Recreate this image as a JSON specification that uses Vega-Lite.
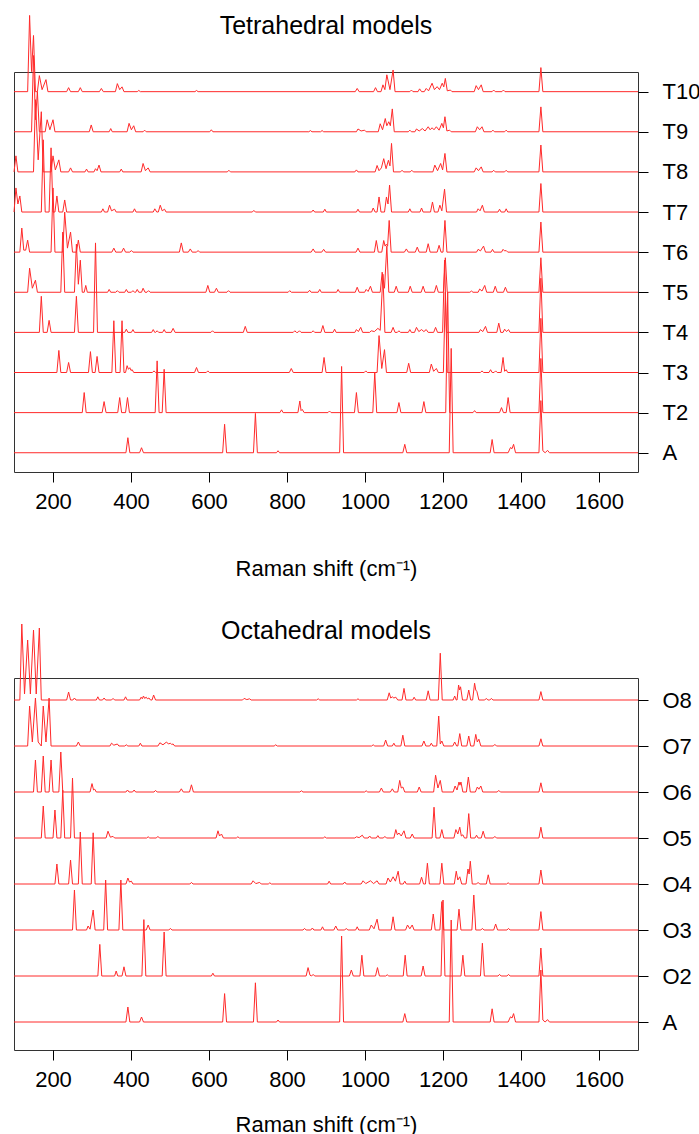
{
"$schema":"https://vega.github.io/schema/vega-lite/v6.json",
"padding":{"left":11,"top":12,"right":0,"bottom":0},
"config":{"font":"Liberation Sans","view":{"stroke":"#333","strokeWidth":1},"concat":{"spacing":38},
"title":{"fontSize":25,"fontWeight":"normal","color":"#000","font":"Liberation Sans"},
"axis":{"labelFont":"Liberation Sans","labelFontSize":22,"labelColor":"#000","tickColor":"#000","domain":false,"grid":false,"titleFont":"Liberation Sans","titleFontWeight":"normal","titleFontSize":22,"titleColor":"#000"}},
"datasets":{
"tet":[
{"s":"A","x":100,"y":0},{"s":"A","x":387,"y":0},{"s":"A","x":392,"y":0.375},{"s":"A","x":397,"y":0},{"s":"A","x":422,"y":0},{"s":"A","x":427,"y":0.125},{"s":"A","x":432,"y":0},{"s":"A","x":635,"y":0},{"s":"A","x":640,"y":0.71},{"s":"A","x":645,"y":0},{"s":"A","x":714,"y":0},{"s":"A","x":719,"y":0.98},{"s":"A","x":724,"y":0},{"s":"A","x":773,"y":0},{"s":"A","x":777,"y":0.05},{"s":"A","x":781,"y":0},{"s":"A","x":935,"y":0},{"s":"A","x":940,"y":2.15},{"s":"A","x":945,"y":0},{"s":"A","x":1097,"y":0},{"s":"A","x":1102,"y":0.21},{"s":"A","x":1107,"y":0},{"s":"A","x":1216,"y":0},{"s":"A","x":1221,"y":2.6},{"s":"A","x":1226,"y":0},{"s":"A","x":1321,"y":0},{"s":"A","x":1326,"y":0.33},{"s":"A","x":1331,"y":0},{"s":"A","x":1367,"y":0},{"s":"A","x":1373,"y":0.13},{"s":"A","x":1377,"y":0.1},{"s":"A","x":1381,"y":0.21},{"s":"A","x":1386,"y":0},{"s":"A","x":1446,"y":0},{"s":"A","x":1451,"y":1.3},{"s":"A","x":1456,"y":0.05},{"s":"A","x":1462,"y":0},{"s":"A","x":1468,"y":0.06},{"s":"A","x":1473,"y":0},{"s":"A","x":1700,"y":0},
{"s":"T2","x":100,"y":1},{"s":"T2","x":275,"y":1},{"s":"T2","x":280,"y":1.5},{"s":"T2","x":285,"y":1},{"s":"T2","x":326,"y":1},{"s":"T2","x":331,"y":1.275},{"s":"T2","x":336,"y":1},{"s":"T2","x":366,"y":1},{"s":"T2","x":371,"y":1.375},{"s":"T2","x":376,"y":1},{"s":"T2","x":386,"y":1},{"s":"T2","x":391,"y":1.375},{"s":"T2","x":396,"y":1},{"s":"T2","x":462,"y":1},{"s":"T2","x":467,"y":2.29},{"s":"T2","x":472,"y":1},{"s":"T2","x":480,"y":1},{"s":"T2","x":485,"y":2.08},{"s":"T2","x":490,"y":1},{"s":"T2","x":782,"y":1},{"s":"T2","x":786,"y":1.07},{"s":"T2","x":790,"y":1},{"s":"T2","x":828,"y":1},{"s":"T2","x":833,"y":1.29},{"s":"T2","x":836,"y":1.05},{"s":"T2","x":839,"y":1.08},{"s":"T2","x":844,"y":1},{"s":"T2","x":905,"y":1},{"s":"T2","x":909,"y":1.04},{"s":"T2","x":913,"y":1},{"s":"T2","x":973,"y":1},{"s":"T2","x":978,"y":1.5},{"s":"T2","x":983,"y":1},{"s":"T2","x":1020,"y":1},{"s":"T2","x":1025,"y":2.0},{"s":"T2","x":1030,"y":1},{"s":"T2","x":1082,"y":1},{"s":"T2","x":1087,"y":1.25},{"s":"T2","x":1092,"y":1},{"s":"T2","x":1146,"y":1},{"s":"T2","x":1151,"y":1.275},{"s":"T2","x":1156,"y":1},{"s":"T2","x":1207,"y":1},{"s":"T2","x":1212,"y":4.0},{"s":"T2","x":1217,"y":1},{"s":"T2","x":1277,"y":1},{"s":"T2","x":1281,"y":1.05},{"s":"T2","x":1285,"y":1},{"s":"T2","x":1345,"y":1},{"s":"T2","x":1350,"y":1.125},{"s":"T2","x":1355,"y":1},{"s":"T2","x":1362,"y":1},{"s":"T2","x":1367,"y":1.375},{"s":"T2","x":1372,"y":1},{"s":"T2","x":1446,"y":1},{"s":"T2","x":1451,"y":2.35},{"s":"T2","x":1456,"y":1},{"s":"T2","x":1700,"y":1},
{"s":"T3","x":100,"y":2},{"s":"T3","x":210,"y":2},{"s":"T3","x":215,"y":2.55},{"s":"T3","x":220,"y":2},{"s":"T3","x":235,"y":2},{"s":"T3","x":240,"y":2.25},{"s":"T3","x":245,"y":2},{"s":"T3","x":291,"y":2},{"s":"T3","x":296,"y":2.52},{"s":"T3","x":301,"y":2},{"s":"T3","x":308,"y":2},{"s":"T3","x":313,"y":2.4},{"s":"T3","x":318,"y":2},{"s":"T3","x":351,"y":2},{"s":"T3","x":356,"y":3.29},{"s":"T3","x":361,"y":2},{"s":"T3","x":372,"y":2},{"s":"T3","x":377,"y":3.29},{"s":"T3","x":382,"y":2},{"s":"T3","x":386,"y":2},{"s":"T3","x":390,"y":2.17},{"s":"T3","x":393.5,"y":2.08},{"s":"T3","x":397,"y":2.12},{"s":"T3","x":400,"y":2.05},{"s":"T3","x":403,"y":2.07},{"s":"T3","x":407,"y":2},{"s":"T3","x":455,"y":2},{"s":"T3","x":459,"y":2.04},{"s":"T3","x":463,"y":2},{"s":"T3","x":563,"y":2},{"s":"T3","x":568,"y":2.125},{"s":"T3","x":573,"y":2},{"s":"T3","x":593,"y":2},{"s":"T3","x":597,"y":2.04},{"s":"T3","x":601,"y":2},{"s":"T3","x":806,"y":2},{"s":"T3","x":811,"y":2.1},{"s":"T3","x":816,"y":2},{"s":"T3","x":890,"y":2},{"s":"T3","x":895,"y":2.375},{"s":"T3","x":900,"y":2},{"s":"T3","x":998,"y":2},{"s":"T3","x":1002,"y":2.04},{"s":"T3","x":1006,"y":2},{"s":"T3","x":1031,"y":2},{"s":"T3","x":1036,"y":2.92},{"s":"T3","x":1043,"y":2.1},{"s":"T3","x":1050,"y":2.57},{"s":"T3","x":1055,"y":2},{"s":"T3","x":1107,"y":2},{"s":"T3","x":1112,"y":2.23},{"s":"T3","x":1117,"y":2},{"s":"T3","x":1165,"y":2},{"s":"T3","x":1170,"y":2.21},{"s":"T3","x":1176,"y":2.03},{"s":"T3","x":1183,"y":2.1},{"s":"T3","x":1188,"y":2},{"s":"T3","x":1201,"y":2},{"s":"T3","x":1206,"y":4.0},{"s":"T3","x":1211,"y":2},{"s":"T3","x":1296,"y":2},{"s":"T3","x":1300,"y":2.04},{"s":"T3","x":1304,"y":2},{"s":"T3","x":1318,"y":2},{"s":"T3","x":1322,"y":2.07},{"s":"T3","x":1326,"y":2},{"s":"T3","x":1331,"y":2},{"s":"T3","x":1335,"y":2.04},{"s":"T3","x":1339,"y":2},{"s":"T3","x":1349,"y":2},{"s":"T3","x":1354,"y":2.375},{"s":"T3","x":1358,"y":2.03},{"s":"T3","x":1362,"y":2.07},{"s":"T3","x":1366,"y":2},{"s":"T3","x":1446,"y":2},{"s":"T3","x":1451,"y":3.35},{"s":"T3","x":1456,"y":2},{"s":"T3","x":1700,"y":2},
{"s":"T4","x":100,"y":3},{"s":"T4","x":165,"y":3},{"s":"T4","x":170,"y":3.9},{"s":"T4","x":175,"y":3},{"s":"T4","x":185,"y":3},{"s":"T4","x":190,"y":3.3},{"s":"T4","x":195,"y":3},{"s":"T4","x":255,"y":3},{"s":"T4","x":260,"y":3.9},{"s":"T4","x":265,"y":3},{"s":"T4","x":304,"y":3},{"s":"T4","x":309,"y":5.23},{"s":"T4","x":314,"y":3},{"s":"T4","x":384,"y":3},{"s":"T4","x":388,"y":3.08},{"s":"T4","x":392,"y":3},{"s":"T4","x":401,"y":3},{"s":"T4","x":405,"y":3.07},{"s":"T4","x":409,"y":3},{"s":"T4","x":453,"y":3},{"s":"T4","x":457,"y":3.07},{"s":"T4","x":461,"y":3},{"s":"T4","x":463,"y":3},{"s":"T4","x":467,"y":3.04},{"s":"T4","x":471,"y":3},{"s":"T4","x":481,"y":3},{"s":"T4","x":485,"y":3.07},{"s":"T4","x":489,"y":3},{"s":"T4","x":503,"y":3},{"s":"T4","x":508,"y":3.1},{"s":"T4","x":513,"y":3},{"s":"T4","x":605,"y":3},{"s":"T4","x":609,"y":3.04},{"s":"T4","x":613,"y":3},{"s":"T4","x":688,"y":3},{"s":"T4","x":693,"y":3.15},{"s":"T4","x":698,"y":3},{"s":"T4","x":816,"y":3},{"s":"T4","x":820,"y":3.04},{"s":"T4","x":824,"y":3},{"s":"T4","x":828,"y":3},{"s":"T4","x":832,"y":3.04},{"s":"T4","x":836,"y":3},{"s":"T4","x":863,"y":3},{"s":"T4","x":867,"y":3.04},{"s":"T4","x":871,"y":3},{"s":"T4","x":887,"y":3},{"s":"T4","x":892,"y":3.17},{"s":"T4","x":897,"y":3},{"s":"T4","x":918,"y":3},{"s":"T4","x":922,"y":3.08},{"s":"T4","x":926,"y":3},{"s":"T4","x":974,"y":3},{"s":"T4","x":978,"y":3.07},{"s":"T4","x":983,"y":3.02},{"s":"T4","x":989,"y":3.125},{"s":"T4","x":994,"y":3},{"s":"T4","x":1012,"y":3},{"s":"T4","x":1016,"y":3.04},{"s":"T4","x":1024,"y":3.02},{"s":"T4","x":1033,"y":3.1},{"s":"T4","x":1039,"y":3.05},{"s":"T4","x":1046,"y":4.45},{"s":"T4","x":1051,"y":3},{"s":"T4","x":1067,"y":3},{"s":"T4","x":1072,"y":3.125},{"s":"T4","x":1077,"y":3},{"s":"T4","x":1083,"y":3},{"s":"T4","x":1087,"y":3.04},{"s":"T4","x":1091,"y":3},{"s":"T4","x":1111,"y":3},{"s":"T4","x":1115,"y":3.07},{"s":"T4","x":1119,"y":3},{"s":"T4","x":1127,"y":3},{"s":"T4","x":1132,"y":3.125},{"s":"T4","x":1138,"y":3.02},{"s":"T4","x":1145,"y":3.07},{"s":"T4","x":1151,"y":3.02},{"s":"T4","x":1157,"y":3.07},{"s":"T4","x":1162,"y":3},{"s":"T4","x":1176,"y":3},{"s":"T4","x":1181,"y":3.125},{"s":"T4","x":1186,"y":3},{"s":"T4","x":1199,"y":3},{"s":"T4","x":1204,"y":4.8},{"s":"T4","x":1209,"y":3},{"s":"T4","x":1292,"y":3},{"s":"T4","x":1296,"y":3.07},{"s":"T4","x":1302,"y":3.02},{"s":"T4","x":1309,"y":3.15},{"s":"T4","x":1314,"y":3},{"s":"T4","x":1338,"y":3},{"s":"T4","x":1343,"y":3.23},{"s":"T4","x":1348,"y":3},{"s":"T4","x":1354,"y":3},{"s":"T4","x":1358,"y":3.08},{"s":"T4","x":1363,"y":3.02},{"s":"T4","x":1368,"y":3.07},{"s":"T4","x":1372,"y":3},{"s":"T4","x":1446,"y":3},{"s":"T4","x":1451,"y":4.35},{"s":"T4","x":1456,"y":3},{"s":"T4","x":1700,"y":3},
{"s":"T5","x":100,"y":4},{"s":"T5","x":135,"y":4},{"s":"T5","x":140,"y":4.6},{"s":"T5","x":147,"y":4.1},{"s":"T5","x":155,"y":4.3},{"s":"T5","x":160,"y":4},{"s":"T5","x":220,"y":4},{"s":"T5","x":225,"y":5.5},{"s":"T5","x":230,"y":4},{"s":"T5","x":255,"y":4},{"s":"T5","x":260,"y":5.2},{"s":"T5","x":265,"y":4.2},{"s":"T5","x":270,"y":4.8},{"s":"T5","x":275,"y":4},{"s":"T5","x":280,"y":4},{"s":"T5","x":284,"y":4.17},{"s":"T5","x":288,"y":4},{"s":"T5","x":340,"y":4},{"s":"T5","x":344,"y":4.07},{"s":"T5","x":348,"y":4},{"s":"T5","x":361,"y":4},{"s":"T5","x":365,"y":4.04},{"s":"T5","x":369,"y":4},{"s":"T5","x":384,"y":4},{"s":"T5","x":388,"y":4.07},{"s":"T5","x":392,"y":4},{"s":"T5","x":401,"y":4},{"s":"T5","x":405,"y":4.04},{"s":"T5","x":409,"y":4},{"s":"T5","x":412,"y":4},{"s":"T5","x":416,"y":4.07},{"s":"T5","x":420,"y":4},{"s":"T5","x":427,"y":4},{"s":"T5","x":431,"y":4.1},{"s":"T5","x":436,"y":4},{"s":"T5","x":441,"y":4},{"s":"T5","x":445,"y":4.04},{"s":"T5","x":449,"y":4},{"s":"T5","x":592,"y":4},{"s":"T5","x":597,"y":4.17},{"s":"T5","x":602,"y":4},{"s":"T5","x":614,"y":4},{"s":"T5","x":619,"y":4.1},{"s":"T5","x":624,"y":4},{"s":"T5","x":646,"y":4},{"s":"T5","x":650,"y":4.04},{"s":"T5","x":654,"y":4},{"s":"T5","x":803,"y":4},{"s":"T5","x":807,"y":4.04},{"s":"T5","x":811,"y":4},{"s":"T5","x":854,"y":4},{"s":"T5","x":858,"y":4.05},{"s":"T5","x":862,"y":4},{"s":"T5","x":880,"y":4},{"s":"T5","x":884,"y":4.07},{"s":"T5","x":888,"y":4},{"s":"T5","x":927,"y":4},{"s":"T5","x":931,"y":4.07},{"s":"T5","x":935,"y":4},{"s":"T5","x":975,"y":4},{"s":"T5","x":980,"y":4.125},{"s":"T5","x":985,"y":4},{"s":"T5","x":999,"y":4},{"s":"T5","x":1003,"y":4.07},{"s":"T5","x":1008,"y":4.02},{"s":"T5","x":1014,"y":4.15},{"s":"T5","x":1019,"y":4},{"s":"T5","x":1039,"y":4},{"s":"T5","x":1044,"y":4.5},{"s":"T5","x":1050,"y":4.1},{"s":"T5","x":1056,"y":5.15},{"s":"T5","x":1061,"y":4},{"s":"T5","x":1075,"y":4},{"s":"T5","x":1080,"y":4.15},{"s":"T5","x":1085,"y":4},{"s":"T5","x":1111,"y":4},{"s":"T5","x":1116,"y":4.15},{"s":"T5","x":1121,"y":4},{"s":"T5","x":1144,"y":4},{"s":"T5","x":1149,"y":4.15},{"s":"T5","x":1154,"y":4},{"s":"T5","x":1178,"y":4},{"s":"T5","x":1183,"y":4.17},{"s":"T5","x":1188,"y":4},{"s":"T5","x":1201,"y":4},{"s":"T5","x":1206,"y":4.86},{"s":"T5","x":1211,"y":4},{"s":"T5","x":1269,"y":4},{"s":"T5","x":1273,"y":4.03},{"s":"T5","x":1277,"y":4},{"s":"T5","x":1290,"y":4},{"s":"T5","x":1294,"y":4.08},{"s":"T5","x":1300,"y":4.03},{"s":"T5","x":1307,"y":4.17},{"s":"T5","x":1312,"y":4},{"s":"T5","x":1329,"y":4},{"s":"T5","x":1334,"y":4.15},{"s":"T5","x":1339,"y":4},{"s":"T5","x":1355,"y":4},{"s":"T5","x":1360,"y":4.125},{"s":"T5","x":1365,"y":4},{"s":"T5","x":1446,"y":4},{"s":"T5","x":1451,"y":4.86},{"s":"T5","x":1456,"y":4},{"s":"T5","x":1700,"y":4},
{"s":"T6","x":100,"y":5},{"s":"T6","x":115,"y":5},{"s":"T6","x":120,"y":5.6},{"s":"T6","x":125,"y":5.05},{"s":"T6","x":130,"y":5.05},{"s":"T6","x":135,"y":5.3},{"s":"T6","x":140,"y":5},{"s":"T6","x":195,"y":5},{"s":"T6","x":200,"y":6.6},{"s":"T6","x":205,"y":5},{"s":"T6","x":225,"y":5},{"s":"T6","x":230,"y":6.0},{"s":"T6","x":237,"y":5.1},{"s":"T6","x":245,"y":5.5},{"s":"T6","x":250,"y":5},{"s":"T6","x":260,"y":5},{"s":"T6","x":265,"y":5.3},{"s":"T6","x":270,"y":5},{"s":"T6","x":351,"y":5},{"s":"T6","x":356,"y":5.1},{"s":"T6","x":361,"y":5},{"s":"T6","x":376,"y":5},{"s":"T6","x":381,"y":5.1},{"s":"T6","x":386,"y":5},{"s":"T6","x":397,"y":5},{"s":"T6","x":401,"y":5.04},{"s":"T6","x":405,"y":5},{"s":"T6","x":524,"y":5},{"s":"T6","x":529,"y":5.23},{"s":"T6","x":534,"y":5},{"s":"T6","x":547,"y":5},{"s":"T6","x":552,"y":5.08},{"s":"T6","x":557,"y":5},{"s":"T6","x":568,"y":5},{"s":"T6","x":572,"y":5.04},{"s":"T6","x":576,"y":5},{"s":"T6","x":862,"y":5},{"s":"T6","x":867,"y":5.08},{"s":"T6","x":872,"y":5},{"s":"T6","x":889,"y":5},{"s":"T6","x":894,"y":5.07},{"s":"T6","x":899,"y":5},{"s":"T6","x":977,"y":5},{"s":"T6","x":982,"y":5.1},{"s":"T6","x":987,"y":5},{"s":"T6","x":1024,"y":5},{"s":"T6","x":1029,"y":5.29},{"s":"T6","x":1034,"y":5},{"s":"T6","x":1043,"y":5},{"s":"T6","x":1048,"y":5.29},{"s":"T6","x":1051.5,"y":5.15},{"s":"T6","x":1055,"y":5.2},{"s":"T6","x":1058,"y":5.15},{"s":"T6","x":1062,"y":5.79},{"s":"T6","x":1067,"y":5},{"s":"T6","x":1101,"y":5},{"s":"T6","x":1106,"y":5.08},{"s":"T6","x":1111,"y":5},{"s":"T6","x":1129,"y":5},{"s":"T6","x":1134,"y":5.125},{"s":"T6","x":1139,"y":5},{"s":"T6","x":1157,"y":5},{"s":"T6","x":1162,"y":5.21},{"s":"T6","x":1167,"y":5},{"s":"T6","x":1185,"y":5},{"s":"T6","x":1190,"y":5.17},{"s":"T6","x":1195,"y":5},{"s":"T6","x":1200,"y":5},{"s":"T6","x":1205,"y":5.79},{"s":"T6","x":1210,"y":5},{"s":"T6","x":1286,"y":5},{"s":"T6","x":1290,"y":5.07},{"s":"T6","x":1296,"y":5.03},{"s":"T6","x":1304,"y":5.15},{"s":"T6","x":1309,"y":5},{"s":"T6","x":1323,"y":5},{"s":"T6","x":1327,"y":5.07},{"s":"T6","x":1331,"y":5},{"s":"T6","x":1350,"y":5},{"s":"T6","x":1354,"y":5.07},{"s":"T6","x":1358,"y":5.03},{"s":"T6","x":1362,"y":5.04},{"s":"T6","x":1366,"y":5},{"s":"T6","x":1446,"y":5},{"s":"T6","x":1451,"y":5.75},{"s":"T6","x":1456,"y":5},{"s":"T6","x":1700,"y":5},
{"s":"T7","x":100,"y":6},{"s":"T7","x":105,"y":6.6},{"s":"T7","x":110,"y":6.2},{"s":"T7","x":115,"y":6.4},{"s":"T7","x":120,"y":6},{"s":"T7","x":170,"y":6},{"s":"T7","x":175,"y":7.8},{"s":"T7","x":180,"y":6},{"s":"T7","x":190,"y":6},{"s":"T7","x":195,"y":7.6},{"s":"T7","x":200,"y":6},{"s":"T7","x":205,"y":6},{"s":"T7","x":210,"y":6.4},{"s":"T7","x":215,"y":6},{"s":"T7","x":225,"y":6},{"s":"T7","x":230,"y":6.3},{"s":"T7","x":235,"y":6},{"s":"T7","x":324,"y":6},{"s":"T7","x":328,"y":6.08},{"s":"T7","x":332,"y":6},{"s":"T7","x":340,"y":6},{"s":"T7","x":345,"y":6.17},{"s":"T7","x":350,"y":6.03},{"s":"T7","x":358,"y":6.07},{"s":"T7","x":362,"y":6},{"s":"T7","x":405,"y":6},{"s":"T7","x":409,"y":6.08},{"s":"T7","x":413,"y":6},{"s":"T7","x":457,"y":6},{"s":"T7","x":461,"y":6.08},{"s":"T7","x":466,"y":6},{"s":"T7","x":470,"y":6},{"s":"T7","x":475,"y":6.17},{"s":"T7","x":480,"y":6.03},{"s":"T7","x":486,"y":6.07},{"s":"T7","x":490,"y":6},{"s":"T7","x":711,"y":6},{"s":"T7","x":715,"y":6.04},{"s":"T7","x":719,"y":6},{"s":"T7","x":863,"y":6},{"s":"T7","x":867,"y":6.05},{"s":"T7","x":871,"y":6},{"s":"T7","x":893,"y":6},{"s":"T7","x":897,"y":6.07},{"s":"T7","x":901,"y":6},{"s":"T7","x":978,"y":6},{"s":"T7","x":982,"y":6.07},{"s":"T7","x":986,"y":6},{"s":"T7","x":1017,"y":6},{"s":"T7","x":1021,"y":6.1},{"s":"T7","x":1026,"y":6},{"s":"T7","x":1031,"y":6},{"s":"T7","x":1036,"y":6.375},{"s":"T7","x":1041,"y":6},{"s":"T7","x":1050,"y":6},{"s":"T7","x":1055,"y":6.375},{"s":"T7","x":1059,"y":6.2},{"s":"T7","x":1063,"y":6.67},{"s":"T7","x":1068,"y":6},{"s":"T7","x":1111,"y":6},{"s":"T7","x":1115,"y":6.08},{"s":"T7","x":1119,"y":6},{"s":"T7","x":1141,"y":6},{"s":"T7","x":1145,"y":6.1},{"s":"T7","x":1149,"y":6},{"s":"T7","x":1168,"y":6},{"s":"T7","x":1173,"y":6.25},{"s":"T7","x":1178,"y":6},{"s":"T7","x":1187,"y":6},{"s":"T7","x":1192,"y":6.17},{"s":"T7","x":1197,"y":6.03},{"s":"T7","x":1204,"y":6.57},{"s":"T7","x":1209,"y":6},{"s":"T7","x":1286,"y":6},{"s":"T7","x":1290,"y":6.08},{"s":"T7","x":1295,"y":6.03},{"s":"T7","x":1301,"y":6.17},{"s":"T7","x":1306,"y":6},{"s":"T7","x":1341,"y":6},{"s":"T7","x":1345,"y":6.07},{"s":"T7","x":1349,"y":6},{"s":"T7","x":1358,"y":6},{"s":"T7","x":1362,"y":6.08},{"s":"T7","x":1366,"y":6},{"s":"T7","x":1446,"y":6},{"s":"T7","x":1451,"y":6.71},{"s":"T7","x":1456,"y":6},{"s":"T7","x":1700,"y":6},
{"s":"T8","x":100,"y":7},{"s":"T8","x":105,"y":7.4},{"s":"T8","x":110,"y":7},{"s":"T8","x":150,"y":7},{"s":"T8","x":155,"y":8.8},{"s":"T8","x":162,"y":7.3},{"s":"T8","x":170,"y":8.5},{"s":"T8","x":175,"y":7},{"s":"T8","x":195,"y":7},{"s":"T8","x":200,"y":7.4},{"s":"T8","x":206,"y":7.05},{"s":"T8","x":215,"y":7.3},{"s":"T8","x":220,"y":7},{"s":"T8","x":240,"y":7},{"s":"T8","x":245,"y":7.1},{"s":"T8","x":250,"y":7},{"s":"T8","x":282,"y":7},{"s":"T8","x":286,"y":7.07},{"s":"T8","x":290,"y":7},{"s":"T8","x":305,"y":7},{"s":"T8","x":309,"y":7.08},{"s":"T8","x":313,"y":7.03},{"s":"T8","x":318,"y":7.17},{"s":"T8","x":323,"y":7},{"s":"T8","x":371,"y":7},{"s":"T8","x":375,"y":7.07},{"s":"T8","x":379,"y":7},{"s":"T8","x":426,"y":7},{"s":"T8","x":431,"y":7.21},{"s":"T8","x":437,"y":7.03},{"s":"T8","x":444,"y":7.1},{"s":"T8","x":449,"y":7},{"s":"T8","x":647,"y":7},{"s":"T8","x":651,"y":7.04},{"s":"T8","x":655,"y":7},{"s":"T8","x":974,"y":7},{"s":"T8","x":978,"y":7.05},{"s":"T8","x":982,"y":7},{"s":"T8","x":1026,"y":7},{"s":"T8","x":1031,"y":7.16},{"s":"T8","x":1036,"y":7.03},{"s":"T8","x":1042,"y":7.1},{"s":"T8","x":1048,"y":7.33},{"s":"T8","x":1054,"y":7.08},{"s":"T8","x":1060,"y":7.29},{"s":"T8","x":1064,"y":7.15},{"s":"T8","x":1068,"y":7.71},{"s":"T8","x":1073,"y":7},{"s":"T8","x":1091,"y":7},{"s":"T8","x":1095,"y":7.04},{"s":"T8","x":1099,"y":7},{"s":"T8","x":1116,"y":7},{"s":"T8","x":1120,"y":7.04},{"s":"T8","x":1124,"y":7},{"s":"T8","x":1174,"y":7},{"s":"T8","x":1179,"y":7.17},{"s":"T8","x":1186,"y":7.03},{"s":"T8","x":1194,"y":7.21},{"s":"T8","x":1199,"y":7.05},{"s":"T8","x":1205,"y":7.46},{"s":"T8","x":1210,"y":7},{"s":"T8","x":1280,"y":7},{"s":"T8","x":1285,"y":7.1},{"s":"T8","x":1291,"y":7.03},{"s":"T8","x":1298,"y":7.125},{"s":"T8","x":1303,"y":7},{"s":"T8","x":1326,"y":7},{"s":"T8","x":1330,"y":7.04},{"s":"T8","x":1334,"y":7},{"s":"T8","x":1358,"y":7},{"s":"T8","x":1362,"y":7.04},{"s":"T8","x":1366,"y":7},{"s":"T8","x":1446,"y":7},{"s":"T8","x":1451,"y":7.67},{"s":"T8","x":1456,"y":7},{"s":"T8","x":1700,"y":7},
{"s":"T9","x":100,"y":8},{"s":"T9","x":145,"y":8},{"s":"T9","x":150,"y":9.9},{"s":"T9","x":155,"y":8.3},{"s":"T9","x":160,"y":9.0},{"s":"T9","x":165,"y":8},{"s":"T9","x":180,"y":8},{"s":"T9","x":185,"y":8.3},{"s":"T9","x":192,"y":8.05},{"s":"T9","x":200,"y":8.3},{"s":"T9","x":205,"y":8},{"s":"T9","x":293,"y":8},{"s":"T9","x":298,"y":8.17},{"s":"T9","x":303,"y":8},{"s":"T9","x":344,"y":8},{"s":"T9","x":348,"y":8.08},{"s":"T9","x":352,"y":8},{"s":"T9","x":390,"y":8},{"s":"T9","x":395,"y":8.21},{"s":"T9","x":401,"y":8.05},{"s":"T9","x":407,"y":8.15},{"s":"T9","x":412,"y":8},{"s":"T9","x":431,"y":8},{"s":"T9","x":435,"y":8.04},{"s":"T9","x":439,"y":8},{"s":"T9","x":602,"y":8},{"s":"T9","x":606,"y":8.05},{"s":"T9","x":610,"y":8},{"s":"T9","x":856,"y":8},{"s":"T9","x":860,"y":8.03},{"s":"T9","x":864,"y":8},{"s":"T9","x":886,"y":8},{"s":"T9","x":890,"y":8.03},{"s":"T9","x":894,"y":8},{"s":"T9","x":978,"y":8},{"s":"T9","x":982,"y":8.07},{"s":"T9","x":990,"y":8.02},{"s":"T9","x":999,"y":8.04},{"s":"T9","x":1003,"y":8},{"s":"T9","x":1034,"y":8},{"s":"T9","x":1039,"y":8.2},{"s":"T9","x":1045,"y":8.05},{"s":"T9","x":1052,"y":8.33},{"s":"T9","x":1056,"y":8.15},{"s":"T9","x":1061,"y":8.25},{"s":"T9","x":1065,"y":8.15},{"s":"T9","x":1070,"y":8.57},{"s":"T9","x":1075,"y":8},{"s":"T9","x":1111,"y":8},{"s":"T9","x":1115,"y":8.04},{"s":"T9","x":1119,"y":8},{"s":"T9","x":1128,"y":8},{"s":"T9","x":1132,"y":8.07},{"s":"T9","x":1139,"y":8.02},{"s":"T9","x":1147,"y":8.08},{"s":"T9","x":1154,"y":8.02},{"s":"T9","x":1162,"y":8.125},{"s":"T9","x":1167,"y":8.05},{"s":"T9","x":1172,"y":8.1},{"s":"T9","x":1177,"y":8.05},{"s":"T9","x":1183,"y":8.125},{"s":"T9","x":1190,"y":8.04},{"s":"T9","x":1197,"y":8.21},{"s":"T9","x":1201,"y":8.1},{"s":"T9","x":1205,"y":8.375},{"s":"T9","x":1210,"y":8.02},{"s":"T9","x":1217,"y":8.04},{"s":"T9","x":1221,"y":8},{"s":"T9","x":1283,"y":8},{"s":"T9","x":1288,"y":8.125},{"s":"T9","x":1294,"y":8.05},{"s":"T9","x":1300,"y":8.125},{"s":"T9","x":1305,"y":8},{"s":"T9","x":1324,"y":8},{"s":"T9","x":1328,"y":8.04},{"s":"T9","x":1332,"y":8},{"s":"T9","x":1358,"y":8},{"s":"T9","x":1362,"y":8.04},{"s":"T9","x":1366,"y":8},{"s":"T9","x":1446,"y":8},{"s":"T9","x":1451,"y":8.62},{"s":"T9","x":1456,"y":8},{"s":"T9","x":1700,"y":8},
{"s":"T10","x":100,"y":9},{"s":"T10","x":135,"y":9},{"s":"T10","x":140,"y":10.9},{"s":"T10","x":145,"y":9.5},{"s":"T10","x":150,"y":10.4},{"s":"T10","x":155,"y":9},{"s":"T10","x":160,"y":9},{"s":"T10","x":165,"y":9.4},{"s":"T10","x":172,"y":9.05},{"s":"T10","x":182,"y":9.3},{"s":"T10","x":187,"y":9},{"s":"T10","x":235,"y":9},{"s":"T10","x":240,"y":9.1},{"s":"T10","x":245,"y":9},{"s":"T10","x":265,"y":9},{"s":"T10","x":270,"y":9.1},{"s":"T10","x":275,"y":9},{"s":"T10","x":319,"y":9},{"s":"T10","x":324,"y":9.08},{"s":"T10","x":329,"y":9},{"s":"T10","x":360,"y":9},{"s":"T10","x":365,"y":9.2},{"s":"T10","x":371,"y":9.05},{"s":"T10","x":377,"y":9.12},{"s":"T10","x":382,"y":9},{"s":"T10","x":416,"y":9},{"s":"T10","x":420,"y":9.03},{"s":"T10","x":424,"y":9},{"s":"T10","x":564,"y":9},{"s":"T10","x":568,"y":9.03},{"s":"T10","x":572,"y":9},{"s":"T10","x":975,"y":9},{"s":"T10","x":980,"y":9.08},{"s":"T10","x":985,"y":9},{"s":"T10","x":1022,"y":9},{"s":"T10","x":1027,"y":9.1},{"s":"T10","x":1032,"y":9},{"s":"T10","x":1041,"y":9},{"s":"T10","x":1046,"y":9.17},{"s":"T10","x":1051,"y":9.05},{"s":"T10","x":1056,"y":9.42},{"s":"T10","x":1064,"y":9.05},{"s":"T10","x":1072,"y":9.54},{"s":"T10","x":1077,"y":9},{"s":"T10","x":1115,"y":9},{"s":"T10","x":1119,"y":9.04},{"s":"T10","x":1123,"y":9},{"s":"T10","x":1136,"y":9},{"s":"T10","x":1140,"y":9.07},{"s":"T10","x":1145,"y":9},{"s":"T10","x":1152,"y":9},{"s":"T10","x":1157,"y":9.08},{"s":"T10","x":1163,"y":9.02},{"s":"T10","x":1172,"y":9.21},{"s":"T10","x":1178,"y":9.05},{"s":"T10","x":1185,"y":9.125},{"s":"T10","x":1191,"y":9.05},{"s":"T10","x":1198,"y":9.21},{"s":"T10","x":1202,"y":9.12},{"s":"T10","x":1206,"y":9.33},{"s":"T10","x":1211,"y":9.02},{"s":"T10","x":1219,"y":9.04},{"s":"T10","x":1223,"y":9},{"s":"T10","x":1280,"y":9},{"s":"T10","x":1285,"y":9.15},{"s":"T10","x":1291,"y":9.05},{"s":"T10","x":1298,"y":9.17},{"s":"T10","x":1303,"y":9},{"s":"T10","x":1326,"y":9},{"s":"T10","x":1330,"y":9.04},{"s":"T10","x":1334,"y":9},{"s":"T10","x":1351,"y":9},{"s":"T10","x":1355,"y":9.04},{"s":"T10","x":1359,"y":9},{"s":"T10","x":1446,"y":9},{"s":"T10","x":1451,"y":9.6},{"s":"T10","x":1456,"y":9},{"s":"T10","x":1700,"y":9}
],
"oct":[
{"s":"A","x":100,"y":0},{"s":"A","x":387,"y":0},{"s":"A","x":392,"y":0.375},{"s":"A","x":397,"y":0},{"s":"A","x":422,"y":0},{"s":"A","x":427,"y":0.125},{"s":"A","x":432,"y":0},{"s":"A","x":635,"y":0},{"s":"A","x":640,"y":0.71},{"s":"A","x":645,"y":0},{"s":"A","x":714,"y":0},{"s":"A","x":719,"y":0.98},{"s":"A","x":724,"y":0},{"s":"A","x":773,"y":0},{"s":"A","x":777,"y":0.05},{"s":"A","x":781,"y":0},{"s":"A","x":935,"y":0},{"s":"A","x":940,"y":2.15},{"s":"A","x":945,"y":0},{"s":"A","x":1097,"y":0},{"s":"A","x":1102,"y":0.21},{"s":"A","x":1107,"y":0},{"s":"A","x":1216,"y":0},{"s":"A","x":1221,"y":2.55},{"s":"A","x":1226,"y":0},{"s":"A","x":1321,"y":0},{"s":"A","x":1326,"y":0.33},{"s":"A","x":1331,"y":0},{"s":"A","x":1367,"y":0},{"s":"A","x":1373,"y":0.13},{"s":"A","x":1377,"y":0.1},{"s":"A","x":1381,"y":0.21},{"s":"A","x":1386,"y":0},{"s":"A","x":1446,"y":0},{"s":"A","x":1451,"y":1.3},{"s":"A","x":1456,"y":0.05},{"s":"A","x":1462,"y":0},{"s":"A","x":1468,"y":0.06},{"s":"A","x":1473,"y":0},{"s":"A","x":1700,"y":0},
{"s":"O2","x":100,"y":1.15},{"s":"O2","x":315,"y":1.15},{"s":"O2","x":320,"y":1.94},{"s":"O2","x":325,"y":1.15},{"s":"O2","x":358,"y":1.15},{"s":"O2","x":362,"y":1.275},{"s":"O2","x":366,"y":1.15},{"s":"O2","x":377,"y":1.15},{"s":"O2","x":382,"y":1.38},{"s":"O2","x":387,"y":1.15},{"s":"O2","x":428,"y":1.15},{"s":"O2","x":433,"y":2.56},{"s":"O2","x":438,"y":1.15},{"s":"O2","x":480,"y":1.15},{"s":"O2","x":485,"y":2.25},{"s":"O2","x":490,"y":1.15},{"s":"O2","x":606,"y":1.15},{"s":"O2","x":610,"y":1.22},{"s":"O2","x":614,"y":1.15},{"s":"O2","x":849,"y":1.15},{"s":"O2","x":854,"y":1.36},{"s":"O2","x":859,"y":1.17},{"s":"O2","x":863,"y":1.15},{"s":"O2","x":867,"y":1.19},{"s":"O2","x":871,"y":1.15},{"s":"O2","x":960,"y":1.15},{"s":"O2","x":965,"y":1.3},{"s":"O2","x":970,"y":1.15},{"s":"O2","x":987,"y":1.15},{"s":"O2","x":992,"y":1.67},{"s":"O2","x":997,"y":1.15},{"s":"O2","x":1027,"y":1.15},{"s":"O2","x":1032,"y":1.36},{"s":"O2","x":1037,"y":1.15},{"s":"O2","x":1053,"y":1.15},{"s":"O2","x":1057,"y":1.18},{"s":"O2","x":1061,"y":1.15},{"s":"O2","x":1098,"y":1.15},{"s":"O2","x":1103,"y":1.67},{"s":"O2","x":1108,"y":1.15},{"s":"O2","x":1144,"y":1.15},{"s":"O2","x":1149,"y":1.4},{"s":"O2","x":1154,"y":1.15},{"s":"O2","x":1195,"y":1.15},{"s":"O2","x":1200,"y":3.05},{"s":"O2","x":1205,"y":1.15},{"s":"O2","x":1246,"y":1.15},{"s":"O2","x":1251,"y":1.67},{"s":"O2","x":1256,"y":1.15},{"s":"O2","x":1296,"y":1.15},{"s":"O2","x":1301,"y":1.97},{"s":"O2","x":1306,"y":1.15},{"s":"O2","x":1341,"y":1.15},{"s":"O2","x":1345,"y":1.19},{"s":"O2","x":1349,"y":1.15},{"s":"O2","x":1364,"y":1.15},{"s":"O2","x":1368,"y":1.19},{"s":"O2","x":1372,"y":1.15},{"s":"O2","x":1446,"y":1.15},{"s":"O2","x":1451,"y":1.85},{"s":"O2","x":1456,"y":1.15},{"s":"O2","x":1700,"y":1.15},
{"s":"O3","x":100,"y":2.3},{"s":"O3","x":250,"y":2.3},{"s":"O3","x":255,"y":3.3},{"s":"O3","x":260,"y":2.3},{"s":"O3","x":286,"y":2.3},{"s":"O3","x":290,"y":2.4},{"s":"O3","x":295,"y":2.32},{"s":"O3","x":303,"y":2.8},{"s":"O3","x":308,"y":2.3},{"s":"O3","x":330,"y":2.3},{"s":"O3","x":335,"y":3.55},{"s":"O3","x":340,"y":2.3},{"s":"O3","x":369,"y":2.3},{"s":"O3","x":374,"y":3.55},{"s":"O3","x":379,"y":2.3},{"s":"O3","x":439,"y":2.3},{"s":"O3","x":444,"y":2.425},{"s":"O3","x":449,"y":2.3},{"s":"O3","x":497,"y":2.3},{"s":"O3","x":501,"y":2.34},{"s":"O3","x":505,"y":2.3},{"s":"O3","x":841,"y":2.3},{"s":"O3","x":845,"y":2.34},{"s":"O3","x":849,"y":2.3},{"s":"O3","x":861,"y":2.3},{"s":"O3","x":865,"y":2.35},{"s":"O3","x":869,"y":2.3},{"s":"O3","x":887,"y":2.3},{"s":"O3","x":891,"y":2.38},{"s":"O3","x":895,"y":2.3},{"s":"O3","x":920,"y":2.3},{"s":"O3","x":925,"y":2.4},{"s":"O3","x":930,"y":2.3},{"s":"O3","x":948,"y":2.3},{"s":"O3","x":952,"y":2.34},{"s":"O3","x":956,"y":2.3},{"s":"O3","x":976,"y":2.3},{"s":"O3","x":980,"y":2.38},{"s":"O3","x":984,"y":2.3},{"s":"O3","x":1011,"y":2.3},{"s":"O3","x":1016,"y":2.425},{"s":"O3","x":1023,"y":2.33},{"s":"O3","x":1031,"y":2.57},{"s":"O3","x":1036,"y":2.3},{"s":"O3","x":1067,"y":2.3},{"s":"O3","x":1072,"y":2.63},{"s":"O3","x":1077,"y":2.3},{"s":"O3","x":1104,"y":2.3},{"s":"O3","x":1109,"y":2.425},{"s":"O3","x":1115,"y":2.33},{"s":"O3","x":1121,"y":2.425},{"s":"O3","x":1126,"y":2.3},{"s":"O3","x":1170,"y":2.3},{"s":"O3","x":1175,"y":2.7},{"s":"O3","x":1180,"y":2.3},{"s":"O3","x":1192,"y":2.3},{"s":"O3","x":1197,"y":3.01},{"s":"O3","x":1202,"y":2.3},{"s":"O3","x":1236,"y":2.3},{"s":"O3","x":1241,"y":2.82},{"s":"O3","x":1246,"y":2.3},{"s":"O3","x":1274,"y":2.3},{"s":"O3","x":1279,"y":3.175},{"s":"O3","x":1284,"y":2.3},{"s":"O3","x":1297,"y":2.3},{"s":"O3","x":1301,"y":2.34},{"s":"O3","x":1305,"y":2.3},{"s":"O3","x":1330,"y":2.3},{"s":"O3","x":1335,"y":2.45},{"s":"O3","x":1340,"y":2.3},{"s":"O3","x":1364,"y":2.3},{"s":"O3","x":1368,"y":2.34},{"s":"O3","x":1372,"y":2.3},{"s":"O3","x":1446,"y":2.3},{"s":"O3","x":1451,"y":2.76},{"s":"O3","x":1456,"y":2.3},{"s":"O3","x":1700,"y":2.3},
{"s":"O4","x":100,"y":3.45},{"s":"O4","x":205,"y":3.45},{"s":"O4","x":210,"y":3.95},{"s":"O4","x":215,"y":3.45},{"s":"O4","x":240,"y":3.45},{"s":"O4","x":245,"y":4.05},{"s":"O4","x":250,"y":3.45},{"s":"O4","x":265,"y":3.45},{"s":"O4","x":270,"y":4.75},{"s":"O4","x":275,"y":3.45},{"s":"O4","x":298,"y":3.45},{"s":"O4","x":303,"y":4.73},{"s":"O4","x":308,"y":3.45},{"s":"O4","x":387,"y":3.45},{"s":"O4","x":392,"y":3.6},{"s":"O4","x":396,"y":3.5},{"s":"O4","x":401,"y":3.52},{"s":"O4","x":405,"y":3.45},{"s":"O4","x":551,"y":3.45},{"s":"O4","x":555,"y":3.49},{"s":"O4","x":559,"y":3.45},{"s":"O4","x":708,"y":3.45},{"s":"O4","x":713,"y":3.53},{"s":"O4","x":720,"y":3.46},{"s":"O4","x":730,"y":3.49},{"s":"O4","x":734,"y":3.45},{"s":"O4","x":752,"y":3.45},{"s":"O4","x":756,"y":3.48},{"s":"O4","x":760,"y":3.45},{"s":"O4","x":904,"y":3.45},{"s":"O4","x":908,"y":3.52},{"s":"O4","x":912,"y":3.45},{"s":"O4","x":944,"y":3.45},{"s":"O4","x":948,"y":3.5},{"s":"O4","x":952,"y":3.45},{"s":"O4","x":990,"y":3.45},{"s":"O4","x":995,"y":3.53},{"s":"O4","x":1002,"y":3.46},{"s":"O4","x":1014,"y":3.53},{"s":"O4","x":1022,"y":3.46},{"s":"O4","x":1031,"y":3.53},{"s":"O4","x":1036,"y":3.45},{"s":"O4","x":1054,"y":3.45},{"s":"O4","x":1059,"y":3.6},{"s":"O4","x":1065,"y":3.5},{"s":"O4","x":1072,"y":3.63},{"s":"O4","x":1078,"y":3.52},{"s":"O4","x":1085,"y":3.77},{"s":"O4","x":1090,"y":3.45},{"s":"O4","x":1098,"y":3.45},{"s":"O4","x":1102,"y":3.52},{"s":"O4","x":1106,"y":3.45},{"s":"O4","x":1140,"y":3.45},{"s":"O4","x":1145,"y":3.62},{"s":"O4","x":1150,"y":3.45},{"s":"O4","x":1155,"y":3.45},{"s":"O4","x":1160,"y":3.97},{"s":"O4","x":1165,"y":3.45},{"s":"O4","x":1192,"y":3.45},{"s":"O4","x":1197,"y":3.97},{"s":"O4","x":1202,"y":3.45},{"s":"O4","x":1229,"y":3.45},{"s":"O4","x":1234,"y":3.77},{"s":"O4","x":1238,"y":3.55},{"s":"O4","x":1243,"y":3.63},{"s":"O4","x":1248,"y":3.45},{"s":"O4","x":1259,"y":3.45},{"s":"O4","x":1264,"y":3.825},{"s":"O4","x":1267,"y":3.7},{"s":"O4","x":1270,"y":4.02},{"s":"O4","x":1275,"y":3.45},{"s":"O4","x":1286,"y":3.45},{"s":"O4","x":1290,"y":3.49},{"s":"O4","x":1294,"y":3.45},{"s":"O4","x":1311,"y":3.45},{"s":"O4","x":1316,"y":3.68},{"s":"O4","x":1321,"y":3.45},{"s":"O4","x":1363,"y":3.45},{"s":"O4","x":1367,"y":3.48},{"s":"O4","x":1371,"y":3.45},{"s":"O4","x":1446,"y":3.45},{"s":"O4","x":1451,"y":3.8},{"s":"O4","x":1456,"y":3.45},{"s":"O4","x":1700,"y":3.45},
{"s":"O5","x":100,"y":4.6},{"s":"O5","x":170,"y":4.6},{"s":"O5","x":175,"y":5.4},{"s":"O5","x":180,"y":4.6},{"s":"O5","x":200,"y":4.6},{"s":"O5","x":205,"y":5.3},{"s":"O5","x":210,"y":4.6},{"s":"O5","x":220,"y":4.6},{"s":"O5","x":225,"y":5.8},{"s":"O5","x":230,"y":4.6},{"s":"O5","x":245,"y":4.6},{"s":"O5","x":250,"y":6.1},{"s":"O5","x":255,"y":4.6},{"s":"O5","x":336,"y":4.6},{"s":"O5","x":341,"y":4.77},{"s":"O5","x":347,"y":4.62},{"s":"O5","x":354,"y":4.64},{"s":"O5","x":358,"y":4.6},{"s":"O5","x":440,"y":4.6},{"s":"O5","x":444,"y":4.63},{"s":"O5","x":448,"y":4.6},{"s":"O5","x":465,"y":4.6},{"s":"O5","x":469,"y":4.64},{"s":"O5","x":473,"y":4.6},{"s":"O5","x":618,"y":4.6},{"s":"O5","x":623,"y":4.78},{"s":"O5","x":627,"y":4.65},{"s":"O5","x":632,"y":4.7},{"s":"O5","x":637,"y":4.6},{"s":"O5","x":670,"y":4.6},{"s":"O5","x":674,"y":4.63},{"s":"O5","x":678,"y":4.6},{"s":"O5","x":893,"y":4.6},{"s":"O5","x":897,"y":4.63},{"s":"O5","x":901,"y":4.6},{"s":"O5","x":974,"y":4.6},{"s":"O5","x":978,"y":4.63},{"s":"O5","x":985,"y":4.61},{"s":"O5","x":993,"y":4.67},{"s":"O5","x":998,"y":4.6},{"s":"O5","x":1008,"y":4.6},{"s":"O5","x":1012,"y":4.65},{"s":"O5","x":1016,"y":4.6},{"s":"O5","x":1029,"y":4.6},{"s":"O5","x":1033,"y":4.66},{"s":"O5","x":1037,"y":4.6},{"s":"O5","x":1047,"y":4.6},{"s":"O5","x":1051,"y":4.64},{"s":"O5","x":1055,"y":4.6},{"s":"O5","x":1074,"y":4.6},{"s":"O5","x":1079,"y":4.81},{"s":"O5","x":1083,"y":4.68},{"s":"O5","x":1087,"y":4.725},{"s":"O5","x":1093,"y":4.65},{"s":"O5","x":1100,"y":4.78},{"s":"O5","x":1105,"y":4.6},{"s":"O5","x":1116,"y":4.6},{"s":"O5","x":1121,"y":4.7},{"s":"O5","x":1126,"y":4.6},{"s":"O5","x":1172,"y":4.6},{"s":"O5","x":1177,"y":5.37},{"s":"O5","x":1182,"y":4.6},{"s":"O5","x":1192,"y":4.6},{"s":"O5","x":1197,"y":4.81},{"s":"O5","x":1202,"y":4.6},{"s":"O5","x":1228,"y":4.6},{"s":"O5","x":1233,"y":4.81},{"s":"O5","x":1238,"y":4.7},{"s":"O5","x":1243,"y":4.87},{"s":"O5","x":1247,"y":4.65},{"s":"O5","x":1251,"y":4.68},{"s":"O5","x":1255,"y":4.6},{"s":"O5","x":1261,"y":4.6},{"s":"O5","x":1266,"y":5.21},{"s":"O5","x":1271,"y":4.6},{"s":"O5","x":1282,"y":4.6},{"s":"O5","x":1286,"y":4.67},{"s":"O5","x":1290,"y":4.6},{"s":"O5","x":1298,"y":4.6},{"s":"O5","x":1303,"y":4.77},{"s":"O5","x":1308,"y":4.6},{"s":"O5","x":1329,"y":4.6},{"s":"O5","x":1333,"y":4.64},{"s":"O5","x":1337,"y":4.6},{"s":"O5","x":1446,"y":4.6},{"s":"O5","x":1451,"y":4.87},{"s":"O5","x":1456,"y":4.6},{"s":"O5","x":1700,"y":4.6},
{"s":"O6","x":100,"y":5.75},{"s":"O6","x":150,"y":5.75},{"s":"O6","x":155,"y":6.55},{"s":"O6","x":160,"y":5.75},{"s":"O6","x":170,"y":5.75},{"s":"O6","x":175,"y":6.65},{"s":"O6","x":180,"y":5.75},{"s":"O6","x":190,"y":5.75},{"s":"O6","x":195,"y":6.55},{"s":"O6","x":200,"y":5.75},{"s":"O6","x":215,"y":5.75},{"s":"O6","x":220,"y":6.75},{"s":"O6","x":225,"y":5.75},{"s":"O6","x":295,"y":5.75},{"s":"O6","x":300,"y":5.96},{"s":"O6","x":304,"y":5.8},{"s":"O6","x":307,"y":5.82},{"s":"O6","x":311,"y":5.75},{"s":"O6","x":387,"y":5.75},{"s":"O6","x":391,"y":5.8},{"s":"O6","x":395,"y":5.75},{"s":"O6","x":404,"y":5.75},{"s":"O6","x":408,"y":5.8},{"s":"O6","x":412,"y":5.75},{"s":"O6","x":459,"y":5.75},{"s":"O6","x":463,"y":5.79},{"s":"O6","x":467,"y":5.75},{"s":"O6","x":524,"y":5.75},{"s":"O6","x":529,"y":5.83},{"s":"O6","x":534,"y":5.75},{"s":"O6","x":550,"y":5.75},{"s":"O6","x":555,"y":5.93},{"s":"O6","x":560,"y":5.75},{"s":"O6","x":833,"y":5.75},{"s":"O6","x":837,"y":5.78},{"s":"O6","x":841,"y":5.75},{"s":"O6","x":999,"y":5.75},{"s":"O6","x":1003,"y":5.78},{"s":"O6","x":1007,"y":5.75},{"s":"O6","x":1037,"y":5.75},{"s":"O6","x":1042,"y":5.85},{"s":"O6","x":1047,"y":5.75},{"s":"O6","x":1065,"y":5.75},{"s":"O6","x":1070,"y":5.83},{"s":"O6","x":1075,"y":5.75},{"s":"O6","x":1084,"y":5.75},{"s":"O6","x":1089,"y":6.04},{"s":"O6","x":1093,"y":5.85},{"s":"O6","x":1097,"y":5.875},{"s":"O6","x":1102,"y":5.75},{"s":"O6","x":1134,"y":5.75},{"s":"O6","x":1139,"y":5.875},{"s":"O6","x":1144,"y":5.75},{"s":"O6","x":1176,"y":5.75},{"s":"O6","x":1181,"y":6.17},{"s":"O6","x":1187,"y":5.85},{"s":"O6","x":1193,"y":6.04},{"s":"O6","x":1198,"y":5.75},{"s":"O6","x":1226,"y":5.75},{"s":"O6","x":1231,"y":5.9},{"s":"O6","x":1236,"y":5.8},{"s":"O6","x":1241,"y":6.0},{"s":"O6","x":1243.5,"y":5.92},{"s":"O6","x":1246,"y":6.0},{"s":"O6","x":1251,"y":5.75},{"s":"O6","x":1260,"y":5.75},{"s":"O6","x":1265,"y":6.125},{"s":"O6","x":1270,"y":5.75},{"s":"O6","x":1283,"y":5.75},{"s":"O6","x":1288,"y":5.875},{"s":"O6","x":1292,"y":5.82},{"s":"O6","x":1297,"y":5.9},{"s":"O6","x":1302,"y":5.75},{"s":"O6","x":1339,"y":5.75},{"s":"O6","x":1343,"y":5.79},{"s":"O6","x":1347,"y":5.75},{"s":"O6","x":1446,"y":5.75},{"s":"O6","x":1451,"y":5.98},{"s":"O6","x":1456,"y":5.75},{"s":"O6","x":1700,"y":5.75},
{"s":"O7","x":100,"y":6.9},{"s":"O7","x":135,"y":6.9},{"s":"O7","x":140,"y":7.9},{"s":"O7","x":147,"y":7.0},{"s":"O7","x":155,"y":8.1},{"s":"O7","x":162,"y":7.0},{"s":"O7","x":170,"y":6.9},{"s":"O7","x":175,"y":7.9},{"s":"O7","x":182,"y":7.0},{"s":"O7","x":190,"y":8.1},{"s":"O7","x":195,"y":6.9},{"s":"O7","x":260,"y":6.9},{"s":"O7","x":265,"y":7.0},{"s":"O7","x":270,"y":6.9},{"s":"O7","x":346,"y":6.9},{"s":"O7","x":350,"y":6.97},{"s":"O7","x":356,"y":6.92},{"s":"O7","x":365,"y":6.95},{"s":"O7","x":369,"y":6.9},{"s":"O7","x":384,"y":6.9},{"s":"O7","x":388,"y":6.93},{"s":"O7","x":392,"y":6.9},{"s":"O7","x":420,"y":6.9},{"s":"O7","x":424,"y":6.97},{"s":"O7","x":428,"y":6.9},{"s":"O7","x":469,"y":6.9},{"s":"O7","x":474,"y":6.98},{"s":"O7","x":482,"y":6.93},{"s":"O7","x":491,"y":7.0},{"s":"O7","x":496,"y":6.95},{"s":"O7","x":501,"y":6.97},{"s":"O7","x":504,"y":6.94},{"s":"O7","x":508,"y":6.95},{"s":"O7","x":512,"y":6.9},{"s":"O7","x":767,"y":6.9},{"s":"O7","x":771,"y":6.93},{"s":"O7","x":775,"y":6.9},{"s":"O7","x":1017,"y":6.9},{"s":"O7","x":1021,"y":6.93},{"s":"O7","x":1025,"y":6.9},{"s":"O7","x":1048,"y":6.9},{"s":"O7","x":1053,"y":7.05},{"s":"O7","x":1058,"y":6.9},{"s":"O7","x":1070,"y":6.9},{"s":"O7","x":1074,"y":6.97},{"s":"O7","x":1078,"y":6.9},{"s":"O7","x":1092,"y":6.9},{"s":"O7","x":1097,"y":7.17},{"s":"O7","x":1102,"y":6.9},{"s":"O7","x":1146,"y":6.9},{"s":"O7","x":1151,"y":7.025},{"s":"O7","x":1156,"y":6.9},{"s":"O7","x":1166,"y":6.9},{"s":"O7","x":1170,"y":6.97},{"s":"O7","x":1174,"y":6.9},{"s":"O7","x":1184,"y":6.9},{"s":"O7","x":1189,"y":7.65},{"s":"O7","x":1193,"y":6.95},{"s":"O7","x":1197,"y":7.025},{"s":"O7","x":1202,"y":6.9},{"s":"O7","x":1225,"y":6.9},{"s":"O7","x":1230,"y":7.0},{"s":"O7","x":1235,"y":6.9},{"s":"O7","x":1238,"y":6.9},{"s":"O7","x":1243,"y":7.21},{"s":"O7","x":1248,"y":6.9},{"s":"O7","x":1261,"y":6.9},{"s":"O7","x":1266,"y":7.15},{"s":"O7","x":1271,"y":6.9},{"s":"O7","x":1279,"y":6.9},{"s":"O7","x":1284,"y":7.19},{"s":"O7","x":1288,"y":7.0},{"s":"O7","x":1292,"y":7.07},{"s":"O7","x":1297,"y":6.9},{"s":"O7","x":1329,"y":6.9},{"s":"O7","x":1333,"y":6.94},{"s":"O7","x":1337,"y":6.9},{"s":"O7","x":1446,"y":6.9},{"s":"O7","x":1451,"y":7.08},{"s":"O7","x":1456,"y":6.9},{"s":"O7","x":1700,"y":6.9},
{"s":"O8","x":100,"y":8.05},{"s":"O8","x":115,"y":8.05},{"s":"O8","x":120,"y":9.95},{"s":"O8","x":127,"y":8.2},{"s":"O8","x":135,"y":9.55},{"s":"O8","x":142,"y":8.2},{"s":"O8","x":150,"y":9.8},{"s":"O8","x":157,"y":8.2},{"s":"O8","x":165,"y":9.85},{"s":"O8","x":170,"y":8.05},{"s":"O8","x":235,"y":8.05},{"s":"O8","x":240,"y":8.25},{"s":"O8","x":245,"y":8.05},{"s":"O8","x":251,"y":8.05},{"s":"O8","x":255,"y":8.1},{"s":"O8","x":259,"y":8.05},{"s":"O8","x":311,"y":8.05},{"s":"O8","x":315,"y":8.13},{"s":"O8","x":319,"y":8.05},{"s":"O8","x":327,"y":8.05},{"s":"O8","x":331,"y":8.1},{"s":"O8","x":335,"y":8.05},{"s":"O8","x":350,"y":8.05},{"s":"O8","x":354,"y":8.09},{"s":"O8","x":358,"y":8.05},{"s":"O8","x":382,"y":8.05},{"s":"O8","x":386,"y":8.13},{"s":"O8","x":390,"y":8.05},{"s":"O8","x":422,"y":8.05},{"s":"O8","x":426,"y":8.12},{"s":"O8","x":429,"y":8.08},{"s":"O8","x":432,"y":8.15},{"s":"O8","x":435,"y":8.09},{"s":"O8","x":439,"y":8.12},{"s":"O8","x":442,"y":8.08},{"s":"O8","x":446,"y":8.1},{"s":"O8","x":450,"y":8.05},{"s":"O8","x":454,"y":8.05},{"s":"O8","x":458,"y":8.175},{"s":"O8","x":463,"y":8.05},{"s":"O8","x":686,"y":8.05},{"s":"O8","x":690,"y":8.09},{"s":"O8","x":697,"y":8.06},{"s":"O8","x":704,"y":8.08},{"s":"O8","x":708,"y":8.05},{"s":"O8","x":876,"y":8.05},{"s":"O8","x":880,"y":8.08},{"s":"O8","x":884,"y":8.05},{"s":"O8","x":978,"y":8.05},{"s":"O8","x":982,"y":8.08},{"s":"O8","x":986,"y":8.05},{"s":"O8","x":1057,"y":8.05},{"s":"O8","x":1062,"y":8.23},{"s":"O8","x":1066,"y":8.1},{"s":"O8","x":1070,"y":8.13},{"s":"O8","x":1074,"y":8.1},{"s":"O8","x":1079,"y":8.12},{"s":"O8","x":1084,"y":8.05},{"s":"O8","x":1095,"y":8.05},{"s":"O8","x":1100,"y":8.34},{"s":"O8","x":1105,"y":8.05},{"s":"O8","x":1122,"y":8.05},{"s":"O8","x":1126,"y":8.12},{"s":"O8","x":1130,"y":8.05},{"s":"O8","x":1157,"y":8.05},{"s":"O8","x":1162,"y":8.28},{"s":"O8","x":1167,"y":8.05},{"s":"O8","x":1188,"y":8.05},{"s":"O8","x":1193,"y":9.22},{"s":"O8","x":1198,"y":8.05},{"s":"O8","x":1226,"y":8.05},{"s":"O8","x":1230,"y":8.15},{"s":"O8","x":1234,"y":8.05},{"s":"O8","x":1236,"y":8.05},{"s":"O8","x":1240,"y":8.425},{"s":"O8","x":1242.5,"y":8.3},{"s":"O8","x":1245,"y":8.38},{"s":"O8","x":1250,"y":8.05},{"s":"O8","x":1261,"y":8.05},{"s":"O8","x":1266,"y":8.3},{"s":"O8","x":1271,"y":8.05},{"s":"O8","x":1276,"y":8.05},{"s":"O8","x":1281,"y":8.47},{"s":"O8","x":1284,"y":8.3},{"s":"O8","x":1287,"y":8.26},{"s":"O8","x":1292,"y":8.05},{"s":"O8","x":1307,"y":8.05},{"s":"O8","x":1311,"y":8.09},{"s":"O8","x":1315,"y":8.05},{"s":"O8","x":1320,"y":8.05},{"s":"O8","x":1324,"y":8.09},{"s":"O8","x":1328,"y":8.05},{"s":"O8","x":1446,"y":8.05},{"s":"O8","x":1451,"y":8.26},{"s":"O8","x":1456,"y":8.05},{"s":"O8","x":1700,"y":8.05}
]},
"vconcat":[
{"title":{"text":"Tetrahedral models","offset":-25.6},
"width":624,"height":400,
"data":{"name":"tet"},
"mark":{"type":"line","color":"#ff2a2a","strokeWidth":1,"clip":false},
"encoding":{
"x":{"field":"x","type":"quantitative","scale":{"domain":[100,1700],"nice":false,"zero":false},"axis":{"values":[200,400,600,800,1000,1200,1400,1600],"format":"d","tickSize":10,"labelPadding":9,"title":"Raman shift (cm⁻¹)","titlePadding":46}},
"y":{"field":"y","type":"quantitative","scale":{"domain":[-0.48,9.49],"nice":false,"zero":false},"axis":{"orient":"right","values":[0,1,2,3,4,5,6,7,8,9],"labelExpr":"['A','T2','T3','T4','T5','T6','T7','T8','T9','T10'][datum.value]","tickSize":10,"labelPadding":14,"title":null}},
"detail":{"field":"s","type":"nominal"}}},
{"title":{"text":"Octahedral models","offset":-22},
"width":624,"height":372,
"data":{"name":"oct"},
"mark":{"type":"line","color":"#ff2a2a","strokeWidth":1,"clip":false},
"encoding":{
"x":{"field":"x","type":"quantitative","scale":{"domain":[100,1700],"nice":false,"zero":false},"axis":{"values":[200,400,600,800,1000,1200,1400,1600],"format":"d","tickSize":10,"labelPadding":9,"title":"Raman shift (cm⁻¹)","titlePadding":24}},
"y":{"field":"y","type":"quantitative","scale":{"domain":[-0.7,8.6],"nice":false,"zero":false},"axis":{"orient":"right","values":[0,1.15,2.3,3.45,4.6,5.75,6.9,8.05],"labelExpr":"['A','O2','O3','O4','O5','O6','O7','O8'][round(datum.value/1.15)]","tickSize":10,"labelPadding":14,"title":null}},
"detail":{"field":"s","type":"nominal"}}}
]}
